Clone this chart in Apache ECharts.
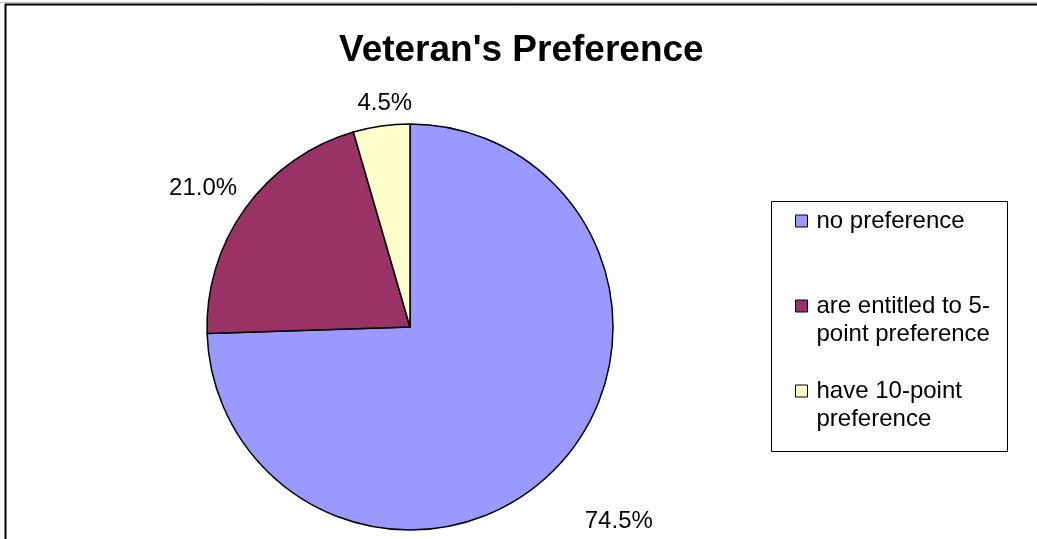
<!DOCTYPE html>
<html>
<head>
<meta charset="utf-8">
<script src="https://cdn.jsdelivr.net/npm/echarts@6/dist/echarts.min.js"></script>
<style>
  html, body { margin: 0; padding: 0; background: #ffffff; }
  #chart { width: 1037px; height: 539px; }
</style>
</head>
<body>
<div id="chart"></div>
<script>
// Survey answers and their shares (percent)
const categories = ['no preference', 'are entitled to 5-point preference', 'have 10-point preference'];
const legendLabels = ['no preference', 'are entitled to 5-\npoint preference', 'have 10-point\npreference'];
const shares = [74.5, 21.0, 4.5];
const sliceColors = ['#9999FF', '#993366', '#FFFFCC'];

const FONT = '"Liberation Sans", Arial, sans-serif';
const PIE_CENTER = [410, 327];
const PIE_RADIUS = 203;
const LEGEND_LINE = 28;
// radial gap between the rim and each percentage label, plus a small nudge
const labelGaps = [48, 12, 10];
const labelNudge = [[5, -3], [-5, 8], [7, 3]];

const total = shares.reduce((a, b) => a + b, 0);

function midDirection(index) {
  let before = 0;
  for (let i = 0; i < index; i++) before += shares[i];
  const frac = (before + shares[index] / 2) / total;
  const ang = frac * 2 * Math.PI; // clockwise from 12 o'clock
  return [Math.sin(ang), -Math.cos(ang)];
}

// Legend text blocks are padded with empty lines so that the swatch sits
// beside the first line of each entry.
function legendText(label) {
  const lines = label.split('\n');
  const below = lines.length === 1 ? 1 : 0;
  const above = lines.length - 1 + below;
  return '\n'.repeat(above) + lines.join('\n') + '\n'.repeat(below);
}

const chart = echarts.init(document.getElementById('chart'), null, { renderer: 'canvas' });

chart.setOption({
  animation: false,
  backgroundColor: '#ffffff',
  title: {
    text: "Veteran's Preference",
    left: 339,
    top: 32,
    padding: 0,
    textStyle: { fontFamily: FONT, fontSize: 37, fontWeight: 'bold', color: '#000000' }
  },
  graphic: [
    { type: 'line', shape: { x1: 0, y1: 2.5, x2: 1037, y2: 2.5 }, style: { stroke: '#c0c0c0', lineWidth: 1 }, z: 0 },
    { type: 'line', shape: { x1: 5, y1: 4.5, x2: 1037, y2: 4.5 }, style: { stroke: '#000000', lineWidth: 2 }, z: 0 },
    { type: 'line', shape: { x1: 5.5, y1: 4, x2: 5.5, y2: 539 }, style: { stroke: '#000000', lineWidth: 2 }, z: 0 },
    { type: 'rect', shape: { x: 771.5, y: 201.5, width: 236, height: 250 }, style: { fill: '#ffffff', stroke: '#000000', lineWidth: 1 }, z: 0 }
  ],
  legend: {
    orient: 'vertical',
    left: 795,
    top: 179,
    padding: 0,
    itemGap: 1,
    itemWidth: 12,
    itemHeight: 12,
    icon: 'rect',
    selectedMode: false,
    itemStyle: { borderColor: '#000000', borderWidth: 1 },
    textStyle: { fontFamily: FONT, fontSize: 24, color: '#000000', lineHeight: LEGEND_LINE, padding: [0, 0, 0, 4] },
    formatter: name => legendText(legendLabels[categories.indexOf(name)]),
    data: categories
  },
  series: [{
    type: 'pie',
    center: PIE_CENTER,
    radius: PIE_RADIUS,
    startAngle: 90,
    clockwise: true,
    avoidLabelOverlap: false,
    silent: true,
    emphasis: { disabled: true },
    itemStyle: { borderColor: '#000000', borderWidth: 1.5 },
    label: {
      show: true,
      position: 'outside',
      fontFamily: FONT,
      fontSize: 24,
      color: '#000000',
      formatter: p => p.value.toFixed(1) + '%'
    },
    labelLine: { show: false },
    labelLayout: function (params) {
      const i = params.dataIndex;
      const d = midDirection(i);
      const w = params.labelRect.width, h = params.labelRect.height;
      const support = Math.abs(d[0]) * w / 2 + Math.abs(d[1]) * h / 2;
      const dist = PIE_RADIUS + labelGaps[i] + support;
      return {
        x: PIE_CENTER[0] + d[0] * dist + labelNudge[i][0],
        y: PIE_CENTER[1] + d[1] * dist + labelNudge[i][1],
        align: 'center',
        verticalAlign: 'middle'
      };
    },
    data: categories.map((name, i) => ({
      name: name,
      value: shares[i],
      itemStyle: { color: sliceColors[i] }
    }))
  }]
});
</script>
</body>
</html>
